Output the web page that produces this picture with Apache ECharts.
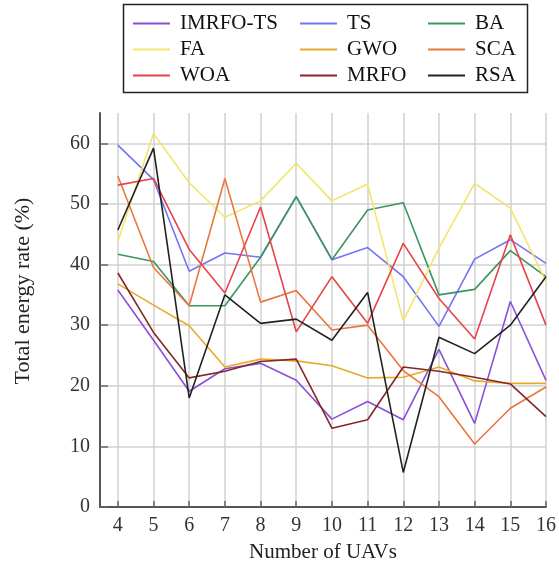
<!DOCTYPE html>
<html>
<head>
<meta charset="utf-8">
<script src="https://cdn.jsdelivr.net/npm/echarts@6/dist/echarts.min.js"></script>
<style>
  html, body { margin: 0; padding: 0; background: #fff; }
  #chart { width: 559px; height: 570px; }
</style>
</head>
<body>
<div id="chart"></div>
<script>
// Number of UAVs on the horizontal axis
const uavCounts = [4, 5, 6, 7, 8, 9, 10, 11, 12, 13, 14, 15, 16];
// Gridline / label positions on the vertical axis
const rateTicks = [0, 10, 20, 30, 40, 50, 60];

// Total energy rate (%) per algorithm
const imrfoTs = [35.8, 27.5, 19.1, 22.8, 23.7, 20.9, 14.5, 17.4, 14.4, 26.0, 13.8, 33.9, 20.9];
const ts      = [59.7, 54.0, 38.9, 41.9, 41.2, 51.2, 40.8, 42.8, 38.0, 29.8, 40.9, 44.1, 40.2];
const ba      = [41.7, 40.5, 33.2, 33.2, 41.2, 51.2, 40.8, 49.0, 50.2, 35.0, 35.9, 42.3, 38.0];
const fa      = [43.8, 61.6, 53.5, 47.8, 50.5, 56.7, 50.5, 53.3, 30.7, 42.7, 53.4, 49.3, 37.2];
const gwo     = [36.8, 33.3, 29.9, 23.1, 24.4, 24.1, 23.3, 21.3, 21.4, 23.1, 20.8, 20.4, 20.4];
const sca     = [54.6, 39.5, 33.2, 54.2, 33.8, 35.7, 29.2, 30.0, 22.5, 18.2, 10.4, 16.3, 19.8];
const woa     = [53.1, 54.2, 42.5, 35.3, 49.5, 28.9, 38.0, 30.3, 43.5, 34.4, 27.7, 44.9, 30.0];
const mrfo    = [38.6, 28.8, 21.3, 22.4, 24.0, 24.4, 13.0, 14.4, 23.1, 22.4, 21.4, 20.3, 14.9];
const rsa     = [45.7, 59.2, 18.0, 35.0, 30.3, 31.0, 27.5, 35.4,  5.7, 28.0, 25.3, 30.0, 38.0];

const algorithms = [
  { name: 'IMRFO-TS', values: imrfoTs, color: '#8a4fd8' },
  { name: 'TS',       values: ts,      color: '#7373f5' },
  { name: 'BA',       values: ba,      color: '#3b9560' },
  { name: 'FA',       values: fa,      color: '#f3e46c' },
  { name: 'GWO',      values: gwo,     color: '#e8aa2a' },
  { name: 'SCA',      values: sca,     color: '#e8773d' },
  { name: 'WOA',      values: woa,     color: '#e8424a' },
  { name: 'MRFO',     values: mrfo,    color: '#842727' },
  { name: 'RSA',      values: rsa,     color: '#222222' }
];

const serif = '"Liberation Serif", "Times New Roman", serif';

const series = algorithms.map(a => ({
  name: a.name,
  type: 'line',
  data: uavCounts.map((x, i) => [x, a.values[i]]),
  symbol: 'none',
  showSymbol: false,
  color: a.color,
  lineStyle: { width: 1.6, color: a.color },
  animation: false
}));

// Three legend columns, each listing three algorithms top to bottom
function legendColumn(names, left) {
  return {
    data: names,
    orient: 'vertical',
    left: left,
    top: 8,
    icon: 'rect',
    itemWidth: 37,
    itemHeight: 2,
    itemGap: 5,
    selectedMode: false,
    textStyle: {
      fontFamily: serif,
      fontSize: 21,
      lineHeight: 21,
      color: '#111',
      padding: [0, 0, 0, 5]
    }
  };
}

const chart = echarts.init(document.getElementById('chart'));
chart.setOption({
  backgroundColor: '#fff',
  animation: false,
  grid: { left: 100, top: 113, width: 450, height: 394, containLabel: false },
  legend: [
    legendColumn(['IMRFO-TS', 'FA', 'WOA'], 128),
    legendColumn(['TS', 'GWO', 'MRFO'], 295),
    legendColumn(['BA', 'SCA', 'RSA'], 423)
  ],
  graphic: [{
    type: 'rect',
    shape: { x: 123.5, y: 4.5, width: 404, height: 88 },
    style: { fill: 'none', stroke: '#222', lineWidth: 1.5 },
    silent: true
  }],
  xAxis: {
    type: 'value',
    min: 3.5,
    max: 16,
    name: 'Number of UAVs',
    nameLocation: 'middle',
    nameGap: 35,
    nameTextStyle: { fontFamily: serif, fontSize: 21, color: '#222' },
    axisLine: { show: true, lineStyle: { color: '#555', width: 2 } },
    axisTick: { show: true, inside: true, length: 6, customValues: uavCounts, lineStyle: { color: '#666', width: 1.5 } },
    axisLabel: { customValues: uavCounts, fontFamily: serif, fontSize: 20, color: '#333', margin: 9 },
    splitLine: { show: true, lineStyle: { color: '#d0d0d0', width: 1.5 } }
  },
  yAxis: {
    type: 'value',
    min: 0,
    max: 65,
    name: 'Total energy rate (%)',
    nameLocation: 'middle',
    nameGap: 66,
    nameTextStyle: { fontFamily: serif, fontSize: 22, color: '#222', padding: [0, 0, 0, 38] },
    axisLine: { show: true, lineStyle: { color: '#555', width: 2 } },
    axisTick: { show: true, inside: true, length: 8, customValues: rateTicks, lineStyle: { color: '#666', width: 1.5 } },
    axisLabel: { customValues: rateTicks, fontFamily: serif, fontSize: 20, color: '#333', margin: 10 },
    splitLine: { show: true, lineStyle: { color: '#d0d0d0', width: 1.5 } }
  },
  series: series
});
</script>
</body>
</html>
